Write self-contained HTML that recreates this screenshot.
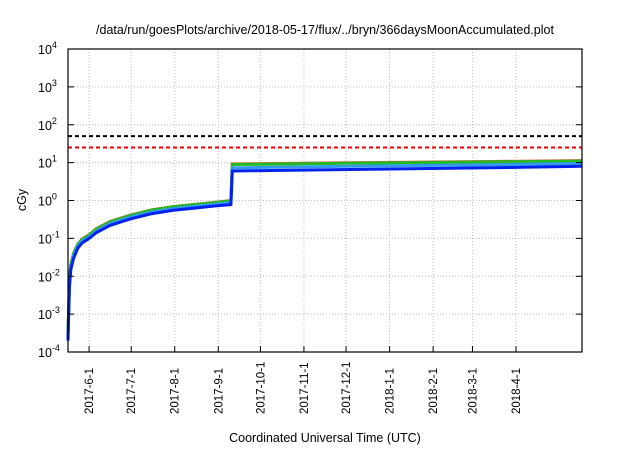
<!DOCTYPE html>
<html><head><meta charset="utf-8"><style>
html,body{margin:0;padding:0;background:#fff;}
svg text{font-family:"Liberation Sans",sans-serif;fill:#000;}
</style></head><body>
<svg id="chart" width="640" height="448" viewBox="0 0 640 448" xmlns="http://www.w3.org/2000/svg">
<rect width="640" height="448" fill="#fff"/>
<text x="325" y="34" font-size="12.5" text-anchor="middle">/data/run/goesPlots/archive/2018-05-17/flux/../bryn/366daysMoonAccumulated.plot</text>
<text transform="translate(26,200) rotate(-90)" font-size="12.5" text-anchor="middle">cGy</text>
<text x="325" y="442" font-size="12.5" text-anchor="middle">Coordinated Universal Time (UTC)</text>
<g id="grid"></g><g id="marks"></g><g id="axes"></g>
</svg>
<script>
const tickDates=["2017-6-1","2017-7-1","2017-8-1","2017-9-1","2017-10-1","2017-11-1","2017-12-1","2018-1-1","2018-2-1","2018-3-1","2018-4-1"];
const tickDays=[15,45,76,107,137,168,198,229,260,288,319];
const yExps=[-4,-3,-2,-1,0,1,2,3,4];
const days=[0,1,2,4,7,10,15,20,30,45,60,75,90,105,116,117,130,200,300,366];
const doseRed=[3e-4,7e-3,0.02,0.04,0.07,0.095,0.125,0.18,0.28,0.42,0.57,0.69,0.79,0.9,1.0,9.2,9.3,9.9,10.7,11.3];
const doseGreen=[3e-4,7e-3,0.02,0.04,0.07,0.093,0.122,0.175,0.27,0.41,0.56,0.68,0.78,0.88,0.98,8.9,9.0,9.6,10.4,11.0];
const doseCyan=[2.5e-4,6e-3,0.017,0.035,0.062,0.084,0.11,0.155,0.245,0.37,0.5,0.61,0.7,0.8,0.88,7.3,7.4,8.0,8.8,9.5];
const doseBlue=[2e-4,5e-3,0.015,0.03,0.055,0.075,0.1,0.14,0.22,0.33,0.45,0.55,0.63,0.72,0.78,6.0,6.1,6.6,7.3,8.0];
const limitBlack=50, limitRed=25;
const L=68,R=582,T=49,B=352,NS="http://www.w3.org/2000/svg";
const xS=d=>L+(R-L)*d/366;
const yS=v=>B-(Math.log10(v)+4)/8*(B-T);
function mk(p,t,a){const e=document.createElementNS(NS,t);for(const k in a)e.setAttribute(k,a[k]);p.appendChild(e);return e;}
const grid=document.getElementById('grid'),marks=document.getElementById('marks'),axes=document.getElementById('axes');
tickDays.forEach((d,i)=>{const x=xS(d);
 const g=mk(grid,'line',{x1:x,x2:x,y1:T,y2:B,stroke:'#bbb','stroke-dasharray':'1,2'});
 
 const t=mk(axes,'line',{x1:x,x2:x,y1:B,y2:B-6,stroke:'#000'});
 
 const tx=mk(axes,'text',{transform:`translate(${x+4},${B+62}) rotate(-90)`,'font-size':'11.5'});
 tx.textContent=tickDates[i];
 
});
yExps.forEach(e=>{const y=yS(Math.pow(10,e));
 if(e>-4&&e<4){const g=mk(grid,'line',{x1:L,x2:R,y1:y,y2:y,stroke:'#bbb','stroke-dasharray':'1,2'});
 }
 const t=mk(axes,'line',{x1:L,x2:L+6,y1:y,y2:y,stroke:'#000'});
 
 const t2=mk(axes,'line',{x1:R,x2:R-6,y1:y,y2:y,stroke:'#000'});
 
 const tx=mk(axes,'text',{x:L-30,y:y+5,'font-size':'12.5'});
 tx.innerHTML='10<tspan dy="-6" font-size="9">'+e+'</tspan>';
 
});
function hline(v,c,n){const l=mk(marks,'line',{x1:L,x2:R,y1:yS(v),y2:yS(v),stroke:c,'stroke-width':2,'stroke-dasharray':'4,3'});
 }
hline(limitBlack,'#000','limit-line-black');
hline(limitRed,'#e00','limit-line-red');
function series(arr,c,n){const pts=arr.map((v,i)=>xS(days[i]).toFixed(1)+','+yS(v).toFixed(1)).join(' ');
 const p=mk(marks,'polyline',{points:pts,fill:'none',stroke:c,'stroke-width':3});
 }
series(doseRed,'#d0603a','series-red');
series(doseGreen,'#22bb22','series-green');
series(doseCyan,'#3399ee','series-cyan');
series(doseBlue,'#0022ee','series-blue');
const fr=mk(axes,'rect',{x:L,y:T,width:R-L,height:B-T,fill:'none',stroke:'#000','stroke-width':1.2});

</script>
</body></html>
